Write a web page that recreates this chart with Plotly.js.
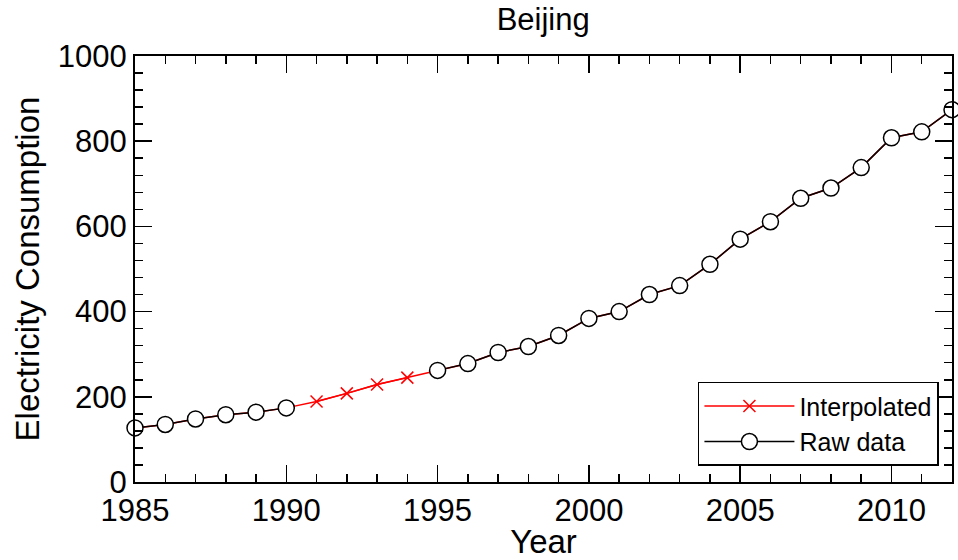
<!DOCTYPE html>
<html>
<head>
<meta charset="utf-8">
<script src="https://cdn.plot.ly/plotly-3.0.1.min.js"></script>
<style>html,body{margin:0;padding:0;background:#fff;}#chart{width:958px;height:560px;}</style>
</head>
<body>
<div id="chart"></div>
<script>
// ---- data ----
var years = [1985,1986,1987,1988,1989,1990,1991,1992,1993,1994,1995,1996,1997,1998,1999,2000,2001,2002,2003,2004,2005,2006,2007,2008,2009,2010,2011,2012];
var rawValues = [127,135,148,158,164,174,null,null,null,null,262,278,304,318,344,384,400,440,461,511,570,611,666,690,738,808,822,874];
var interpYears = [1991,1992,1993,1994];
var interpValues = [189,208,229,245];
var titleText = "Beijing";
var xTitle = "Year";
var yTitle = "Electricity Consumption";

// full series (raw with interpolated values filled in)
var fullValues = years.map(function(y, i){
  var k = interpYears.indexOf(y);
  return k >= 0 ? interpValues[k] : rawValues[i];
});

var FONT = "Liberation Sans, Arial, sans-serif";

var traces = [
  {x: years, y: fullValues, mode: 'lines', line: {color: '#ff0000', width: 1.5},
   showlegend: false, legendgroup: 'interp', hoverinfo: 'skip', cliponaxis: false},
  {x: years, y: rawValues, mode: 'lines+markers', name: 'Raw data', legendrank: 2,
   connectgaps: false, line: {color: '#000000', width: 1.5},
   marker: {symbol: 'circle', size: 16, color: '#ffffff', line: {color: '#000000', width: 1.5}},
   cliponaxis: false},
  {x: interpYears, y: interpValues, mode: 'lines+markers', name: 'Interpolated', legendrank: 1,
   legendgroup: 'interp', line: {color: '#ff0000', width: 1.5},
   marker: {symbol: 'x-thin-open', size: 12, color: '#ff0000', line: {color: '#ff0000', width: 1.5}},
   cliponaxis: false}
];

var axisCommon = {
  showline: true, linecolor: '#000', linewidth: 2, mirror: 'ticks',
  ticks: 'inside', ticklen: 17, tickwidth: 1.5, tickcolor: '#000',
  showgrid: false, zeroline: false,
  tickfont: {family: FONT, size: 31, color: '#000'}
};

var layout = {
  width: 958, height: 560,
  margin: {l: 135, r: 6, t: 56, b: 78},
  paper_bgcolor: '#fff', plot_bgcolor: '#fff',
  font: {family: FONT, color: '#000'},
  title: {text: titleText, font: {family: FONT, size: 31, color: '#000'},
          x: 0.567, xanchor: 'center', y: 0.965, yanchor: 'middle'},
  xaxis: Object.assign({}, axisCommon, {
    range: [1985, 2012], dtick: 5, tick0: 1985,
    minor: {dtick: 1, ticks: 'inside', ticklen: 8, tickwidth: 1.5, tickcolor: '#000'},
    title: {text: xTitle, font: {family: FONT, size: 33, color: '#000'}, standoff: 0}
  }),
  yaxis: Object.assign({}, axisCommon, {
    range: [0, 1000], dtick: 200, tick0: 0,
    minor: {dtick: 40, ticks: 'inside', ticklen: 8, tickwidth: 1.5, tickcolor: '#000'},
    title: {text: yTitle, font: {family: FONT, size: 33, color: '#000'}, standoff: 8}
  }),
  legend: {
    x: 0.984, xanchor: 'right', y: 0.038, yanchor: 'bottom',
    bgcolor: '#fff', bordercolor: '#000', borderwidth: 1.5,
    font: {family: FONT, size: 25, color: '#000'},
    itemwidth: 90, tracegroupgap: 0
  },
  showlegend: true
};

Plotly.newPlot('chart', traces, layout, {displayModeBar: false, staticPlot: true});
</script>
</body>
</html>
